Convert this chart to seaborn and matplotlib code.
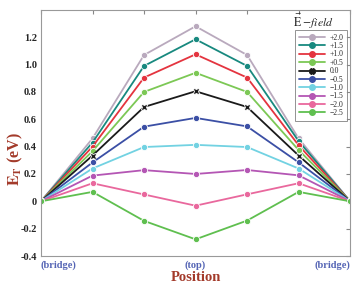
import numpy as np
import pandas as pd
import matplotlib
matplotlib.use("Agg")
import matplotlib.pyplot as plt
import seaborn as sns
from matplotlib.lines import Line2D

positions = [0, 1, 2, 3, 4, 5, 6]
xtick_labels = ["(bridge)", "", "", "(top)", "", "", "(bridge)"]
fields = ["+2.0", "+1.5", "+1.0", "+0.5", "0.0", "\u22120.5", "\u22121.0", "\u22121.5", "\u22122.0", "\u22122.5"]

e_p20 = [0, 0.46, 1.07, 1.28, 1.07, 0.46, 0]
e_p15 = [0, 0.43, 0.99, 1.185, 0.99, 0.44, 0]
e_p10 = [0, 0.40, 0.905, 1.075, 0.905, 0.41, 0]
e_p05 = [0, 0.367, 0.80, 0.94, 0.80, 0.375, 0]
e_00 = [0, 0.335, 0.69, 0.805, 0.69, 0.335, 0]
e_m05 = [0, 0.284, 0.546, 0.61, 0.548, 0.285, 0]
e_m10 = [0, 0.24, 0.397, 0.413, 0.397, 0.24, 0]
e_m15 = [0, 0.188, 0.228, 0.20, 0.229, 0.19, 0]
e_m20 = [0, 0.132, 0.05, -0.032, 0.051, 0.132, 0]
e_m25 = [0, 0.069, -0.143, -0.278, -0.141, 0.069, 0]
series = [e_p20, e_p15, e_p10, e_p05, e_00, e_m05, e_m10, e_m15, e_m20, e_m25]

colors = ["#b9a9bd", "#18897f", "#e4343f", "#7cc855", "#1a1a1a",
          "#3b4fa5", "#72d2e2", "#b456b4", "#e9689d", "#5fbf4f"]

rows = []
for f, vals in zip(fields, series):
    for p, v in zip(positions, vals):
        rows.append({"pos": p, "E": v, "field": f})
df = pd.DataFrame(rows)

sns.set_style("white")
plt.rcParams["font.family"] = ["Liberation Serif", "DejaVu Serif"]
plt.rcParams["mathtext.fontset"] = "stix"

fig = plt.figure(figsize=(3.58, 2.83), dpi=100)
ax = fig.add_axes([0.1145, 0.0954, 0.8635, 0.8696])

palette = dict(zip(fields, colors))
markers = {f: ("X" if f == "0.0" else "o") for f in fields}
sns.lineplot(data=df, x="pos", y="E", hue="field", style="field",
             hue_order=fields, style_order=fields, palette=palette,
             markers=markers, dashes=False, markersize=4.5, linewidth=1.3,
             markeredgewidth=0.6, legend=False, ax=ax, sort=False)

ax.set_xlim(0, 6)
ax.set_ylim(-0.4, 1.4)
ax.set_xticks(positions)
ax.set_xticklabels(xtick_labels, color="#5565b5", fontweight="bold", fontsize=7.5)
xl = ax.get_xticklabels()
xl[0].set_horizontalalignment("left")
xl[-1].set_horizontalalignment("right")
yt = [-0.4, -0.2, 0, 0.2, 0.4, 0.6, 0.8, 1.0, 1.2]
ax.set_yticks(yt)
ax.set_yticklabels(["0" if v == 0 else f"{v:.1f}" for v in yt], fontweight="bold", fontsize=7.5)
ax.tick_params(direction="in", length=3, color="#888888", top=True, right=True, pad=3)
for s in ax.spines.values():
    s.set_color("#999999")
    s.set_linewidth(0.8)

ax.set_xlabel("Position", color="#a33a2a", fontweight="bold", fontsize=10.5, labelpad=1)
ax.set_ylabel(r"$\mathbf{E}_\mathbf{T}$ (eV)", color="#a33a2a", fontweight="bold", fontsize=11.5)
ax.yaxis.set_label_coords(-0.053, 0.394)

handles = []
for f, c in zip(fields, colors):
    handles.append(Line2D([], [], color=c, lw=1.3, marker=("X" if f == "0.0" else "o"), markersize=4))
leg = ax.legend(handles, fields, loc="upper right", bbox_to_anchor=(0.99, 0.919),
                borderaxespad=0, fontsize=5.5, labelspacing=0.05, handlelength=3.4,
                handletextpad=0.6, frameon=True, fancybox=False, edgecolor="#777777",
                borderpad=0.5)
leg.get_frame().set_linewidth(0.7)
ax.text(0.88, 0.955, r"$\vec{\mathrm{E}}\;\mathrm{-}\mathit{field}$", transform=ax.transAxes,
        ha="center", va="center", fontsize=8.5)

fig.savefig("out.png", dpi=100)
